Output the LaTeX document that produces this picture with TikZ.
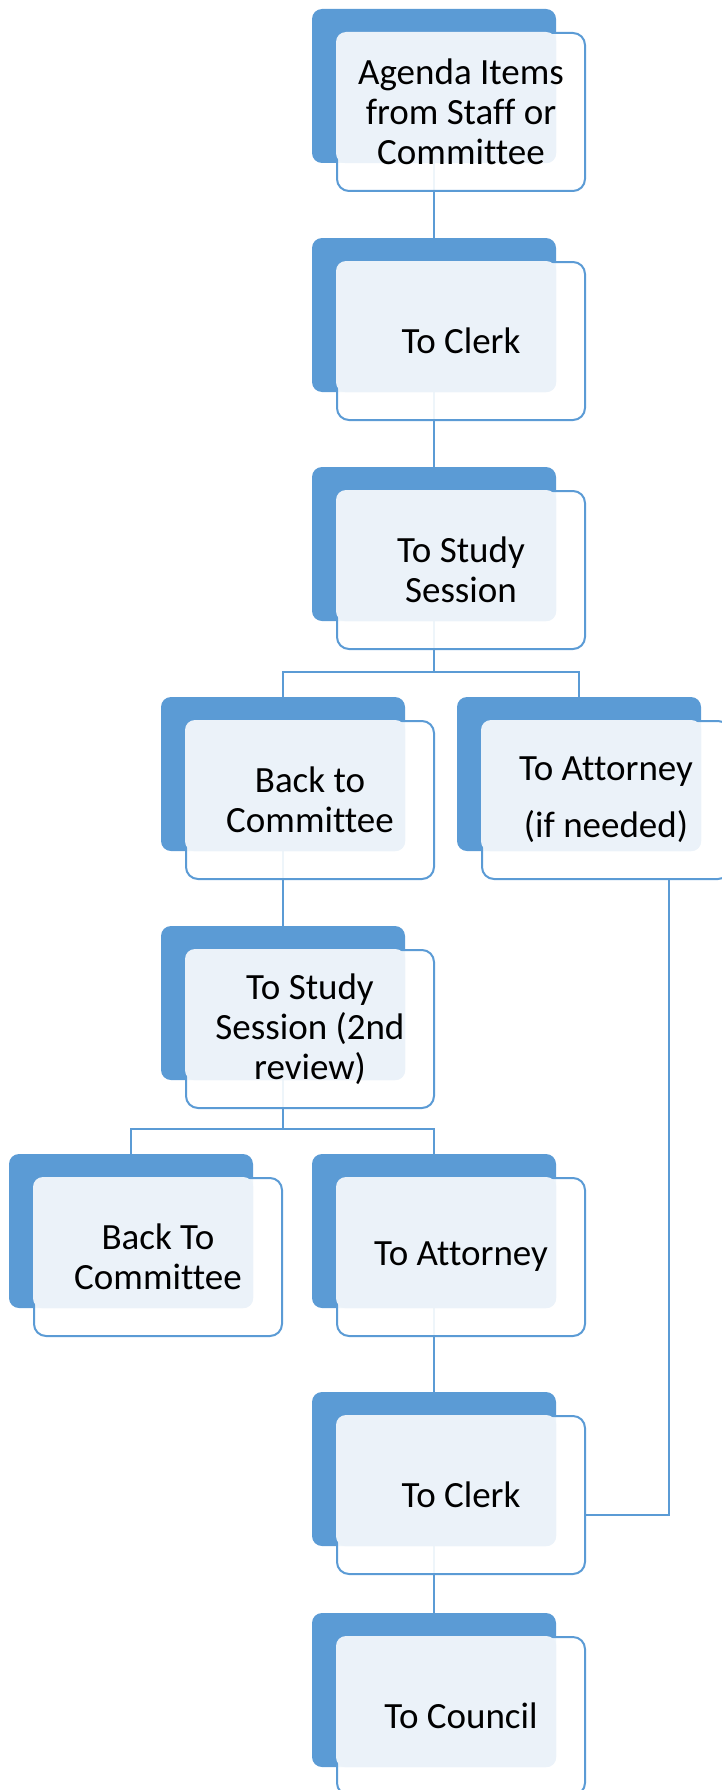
\documentclass[tikz,border=0pt]{standalone}
\usepackage{fontspec}
\setmainfont{Carlito}[Ligatures=NoCommon]
\usepackage{tikz}
\usetikzlibrary{calc,backgrounds}

\definecolor{accent}{RGB}{91,155,213}
\definecolor{paleblue}{RGB}{235,242,249}

\tikzset{
  backbox/.style={fill=accent,rounded corners=10pt,minimum width=244pt,minimum height=154pt,inner sep=0pt},
  frontbox/.style={draw=accent,line width=2pt,fill=white,fill opacity=0.9,rounded corners=12pt,minimum width=248pt,minimum height=158pt,inner sep=0pt},
  textarea/.style={fill=paleblue,rounded corners=10pt},
  cardtext/.style={align=center,font=\fontsize{37}{40}\selectfont},
  link/.style={draw=accent,line width=2pt},
  thinlink/.style={draw=accent,line width=1.2pt}
}

% name, position of the back box, text
\newcommand{\flowcard}[3]{%
  \node[backbox] (#1b) at #2 {};
  \node[frontbox] (#1) at ($(#1b)+(27,26)$) {};
  \fill[textarea] (#1.north west) rectangle (#1b.south east);
  \node[cardtext] (#1t) at (#1) {#3};
}

\begin{document}
\begin{tikzpicture}[x=1pt,y=-1pt]
\useasboundingbox (0,0) rectangle (722,1790);

\flowcard{agenda}{(434,86)}{Agenda Items\\from Staff or\\Committee}
\flowcard{clerk}{(434,315)}{To Clerk}
\flowcard{study}{(434,544)}{To Study\\Session}
\flowcard{back}{(283,774)}{Back to\\Committee}
\flowcard{atty}{(579,774)}{To Attorney\\[17pt](if needed)}
\flowcard{studytwo}{(283,1003)}{To Study\\Session (2nd\\review)}
\flowcard{backto}{(131,1231)}{Back To\\Committee}
\flowcard{attytwo}{(434,1231)}{To Attorney}
\flowcard{clerktwo}{(434,1469)}{To Clerk}
\flowcard{council}{(434,1690)}{To Council}

\coordinate (fork1) at (434,672);
\coordinate (fork2) at (283,1129);

\begin{pgfonlayer}{background}
\draw[link] (agendab) -- (clerkb);
\draw[link] (clerkb) -- (studyb);
\draw[link] (studyb) -- (fork1);
\draw[link] (backb) |- (fork1) -| (attyb);
\draw[link] (backb) -- (studytwob);
\draw[link] (studytwob) -- (fork2);
\draw[link] (backtob) |- (fork2) -| (attytwob);
\draw[link] (attytwob) -- (clerktwob);
\draw[link] (clerktwob) -- (councilb);
\end{pgfonlayer}
\draw[thinlink] ([xshift=63pt]atty.south) |- ([yshift=-20pt]clerktwo.east);
\end{tikzpicture}
\end{document}
